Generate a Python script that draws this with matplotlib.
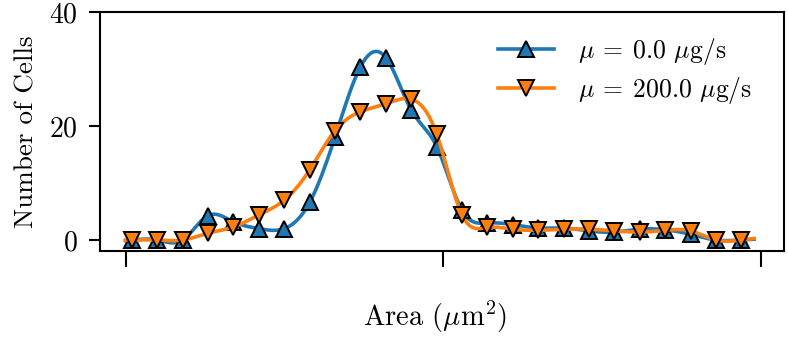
import numpy as np
import matplotlib
matplotlib.use("Agg")
import matplotlib.pyplot as plt

plt.rcParams['font.family'] = 'serif'
plt.rcParams['font.serif'] = ['cmr10']
plt.rcParams['mathtext.fontset'] = 'cm'
plt.rcParams['axes.unicode_minus'] = False
plt.rcParams['axes.formatter.use_mathtext'] = True

# ---- data ----
area = np.array([5, 25, 45, 65, 85, 105, 125, 145, 165, 185, 205, 225, 245,
                 265, 285, 305, 325, 345, 365, 385, 405, 425, 445, 465, 485], dtype=float)
cells_0 = np.array([0, 0, 0, 4.3, 3.2, 2.0, 2.0, 6.6, 18.1, 30.4, 32.0, 22.8, 16.4,
                    5.2, 3.0, 2.7, 2.1, 2.1, 1.6, 1.4, 1.9, 1.8, 1.0, 0, 0])
cells_200 = np.array([0, 0, 0, 1.2, 2.3, 4.4, 7.0, 12.3, 19.2, 22.5, 23.9, 24.7, 18.6,
                      4.4, 2.2, 1.9, 1.7, 1.9, 1.9, 1.6, 1.4, 1.7, 1.6, 0, 0])
labels = [r'$\mu\:=\:0.0$ $\mu$g/s', r'$\mu\:=\:200.0$ $\mu$g/s']
xtick_vals = [0, 250, 500]
ytick_vals = [0, 20, 40]


def natural_spline(x, y, xs):
    n = len(x)
    h = np.diff(x)
    A = np.zeros((n, n))
    b = np.zeros(n)
    A[0, 0] = 1
    A[-1, -1] = 1
    for i in range(1, n - 1):
        A[i, i - 1] = h[i - 1]
        A[i, i] = 2 * (h[i - 1] + h[i])
        A[i, i + 1] = h[i]
        b[i] = 3 * ((y[i + 1] - y[i]) / h[i] - (y[i] - y[i - 1]) / h[i - 1])
    c = np.linalg.solve(A, b)
    bb = np.zeros(n - 1)
    d = np.zeros(n - 1)
    for i in range(n - 1):
        bb[i] = (y[i + 1] - y[i]) / h[i] - h[i] * (2 * c[i] + c[i + 1]) / 3
        d[i] = (c[i + 1] - c[i]) / (3 * h[i])
    out = np.empty_like(xs)
    for j, xv in enumerate(xs):
        if xv < x[0]:
            out[j] = y[0] + bb[0] * (xv - x[0])
            continue
        if xv > x[-1]:
            dx = x[-1] - x[-2]
            slope = bb[-1] + 2 * c[-2] * dx + 3 * d[-1] * dx ** 2
            out[j] = y[-1] + slope * (xv - x[-1])
            continue
        i = min(np.searchsorted(x, xv, side='right') - 1, n - 2)
        t = xv - x[i]
        out[j] = y[i] + bb[i] * t + c[i] * t ** 2 + d[i] * t ** 3
    return out


# dense grid containing the data x positions
sub = 10
grid = [0.0]
for i in range(len(area) - 1):
    grid.extend(np.linspace(area[i], area[i + 1], sub + 1)[:-1])
grid.append(area[-1])
grid.append(495.0)
grid = np.array(grid)
mark_idx = [int(np.argmin(np.abs(grid - a))) for a in area]

fig = plt.figure(figsize=(7.88, 3.57), dpi=100)
ax = fig.add_axes([100 / 788, 1 - 250.5 / 357, 684 / 788, 238.5 / 357])

colors = ['#1f77b4', '#ff7f0e']
markers = ['^', 'v']
for ys, col, mk, lab in zip([cells_0, cells_200], colors, markers, labels):
    ax.plot(grid, natural_spline(area, ys, grid), color=col, lw=2.6,
            marker=mk, markevery=mark_idx, ms=11, mec='black', mew=1.4,
            mfc=col, label=lab)

ax.set_xlim(-20.1, 518.5)
ax.set_ylim(-1.84, 40)
ax.set_xticks(xtick_vals)
ax.set_xticklabels(['' for _ in xtick_vals])
ax.set_yticks(ytick_vals)
ax.tick_params(axis='y', length=8, width=1.5, pad=8, labelsize=20)
ax.tick_params(axis='x', length=11.5, width=1.5)
for s in ax.spines.values():
    s.set_linewidth(1.5)

ax.set_xlabel(r'Area ($\mu$m$^2$)', fontsize=20.5)
ax.xaxis.set_label_coords(0.49, -0.205)
ax.set_ylabel('Number of Cells', fontsize=19.5)
ax.yaxis.set_label_coords(-0.09, 0.5)

ax.legend(loc='upper right', frameon=False, fontsize=18.5, numpoints=1,
          labelspacing=0.3, handlelength=2.15, handletextpad=0.95,
          bbox_to_anchor=(0.987, 0.995))

fig.savefig('out.png', dpi=100)
